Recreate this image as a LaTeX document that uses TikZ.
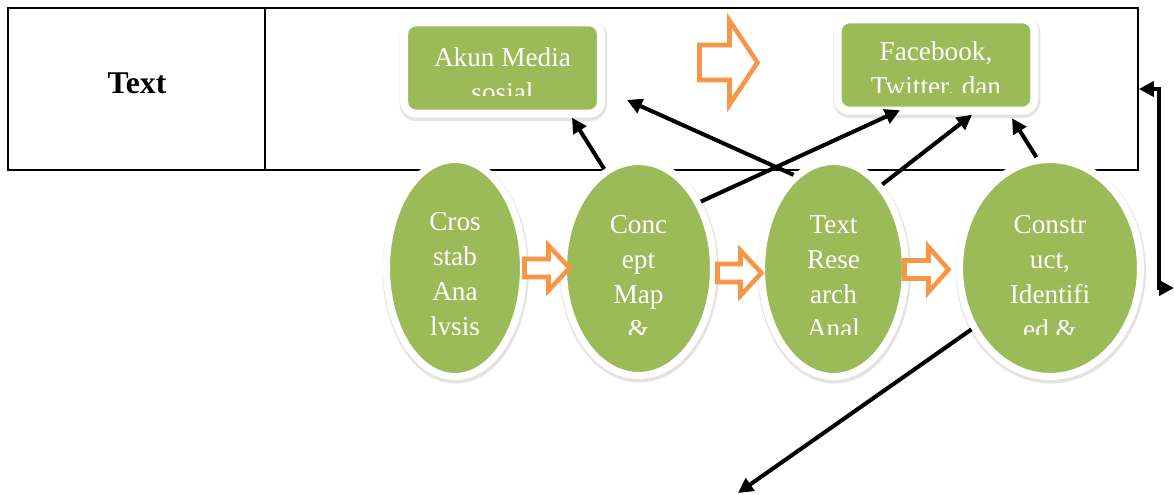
\documentclass[tikz,border=0pt]{standalone}
\usepackage{fontspec}
\setmainfont{Liberation Serif}
\usetikzlibrary{arrows.meta,shapes.geometric}

\definecolor{leafgreen}{HTML}{9BBB59}
\definecolor{boxorange}{HTML}{F79646}

\tikzset{
  pics/blockarr/.style n args={4}{code={
    \draw[blockline] (0,-#3) -- (#1,-#3) -- (#1,-#4) -- (#2,0) -- (#1,#4) -- (#1,#3) -- (0,#3) -- cycle;
  }}
}

\begin{document}
\begin{tikzpicture}[x=0.02cm,y=-0.02cm,
  every node/.style={inner sep=0pt},
  halo/.style={preaction={draw=black!11,line width=#1,
    transform canvas={shift={(0.15mm,-0.45mm)}}}},
  rbox/.style={draw=white,line width=1.6mm,fill=leafgreen,rounded corners=2.4mm,
    minimum width=3.94cm,minimum height=1.83cm,halo=2.1mm},
  oval/.style={ellipse,draw=white,line width=1.4mm,fill=leafgreen,halo=1.9mm},
  lbl/.style={text=white,align=center,font=\fontsize{15.5}{19.8}\selectfont},
  link/.style={line width=2.3pt,-{Triangle[length=3mm,width=3mm]}},
  blockline/.style={draw=boxorange,line width=2.6pt,fill=white,line join=miter}]
  \useasboundingbox (0,0) rectangle (1174,494);

  % table row
  \node[draw,line width=1.1pt,minimum width=22.6cm,minimum height=3.24cm] (tbl) at (573,89) {};
  \draw[line width=1.1pt] (265,0 |- tbl.north) -- (265,0 |- tbl.south);
  \node[font=\fontsize{18}{22}\selectfont\bfseries] (head) at (137,83) {Text};

  % boxes and ovals
  \node[rbox] (akun) at (502.5,68) {};
  \node[rbox] (fb) at (936,65) {};
  \node[oval,minimum width=2.74cm,minimum height=4.34cm] (cros) at (455,268) {};
  \node[oval,minimum width=3.0cm,minimum height=4.28cm] (concept) at (638.5,268.5) {};
  \node[oval,minimum width=2.88cm,minimum height=4.3cm] (research) at (833.5,269) {};
  \node[oval,minimum width=3.62cm,minimum height=4.34cm] (construct) at (1050,268) {};

  % texts, cut off at the bottom
  \begin{scope}
    \clip (395,10) rectangle (610,95) (825,10) rectangle (1045,92) (380,150) rectangle (1145,334);
    \node[lbl] (akuntxt) at (502.5,75) {Akun Media\\sosial};
    \node[lbl] (fbtxt) at (936,71) {Facebook,\\Twitter, dan};
    \node[lbl] (crostxt) at (455,277) {Cros\\stab\\Ana\\lysis};
    \node[lbl] (concepttxt) at (638.5,277) {Conc\\ept\\Map\\\&};
    \node[lbl] (researchtxt) at (833.5,277) {Text\\Rese\\arch\\Anal};
    \node[lbl] (constructtxt) at (1050,277) {Constr\\uct,\\Identifi\\ed \&};
  \end{scope}

  % orange block arrows
  \pic (arrtop) at (699.5,62.5) {blockarr={30}{58}{17.5}{42}};
  \pic (arr1) at (524.5,268) {blockarr={24}{45}{9}{22.5}};
  \pic (arr2) at (717.5,273) {blockarr={23}{44}{9}{22.5}};
  \pic (arr3) at (904.5,269.5) {blockarr={24}{44}{9}{22.5}};

  % black connectors
  \coordinate (side) at (1174,288);
  \coordinate (down) at (738,493);
  \draw[link] (concept.109) -- ([xshift=13.9mm]akun.south);
  \draw[link] (research.113) -- ([shift={(4.4mm,-6.4mm)}]akun.east);
  \draw[link] (concept.47) -- ([shift={(-7.2mm,0.9mm)}]fb.south);
  \draw[link] (research.60) -- ([xshift=7.2mm]fb.south);
  \draw[link] (construct.97) -- ([shift={(15.2mm,-0.7mm)}]fb.south);
  \draw[link,{Triangle[length=3mm,width=3mm]}-{Triangle[length=3mm,width=3mm]}] (tbl.east) -- ++(20,0) |- (side);
  \draw[link] (construct.218) -- (down);
\end{tikzpicture}
\end{document}
